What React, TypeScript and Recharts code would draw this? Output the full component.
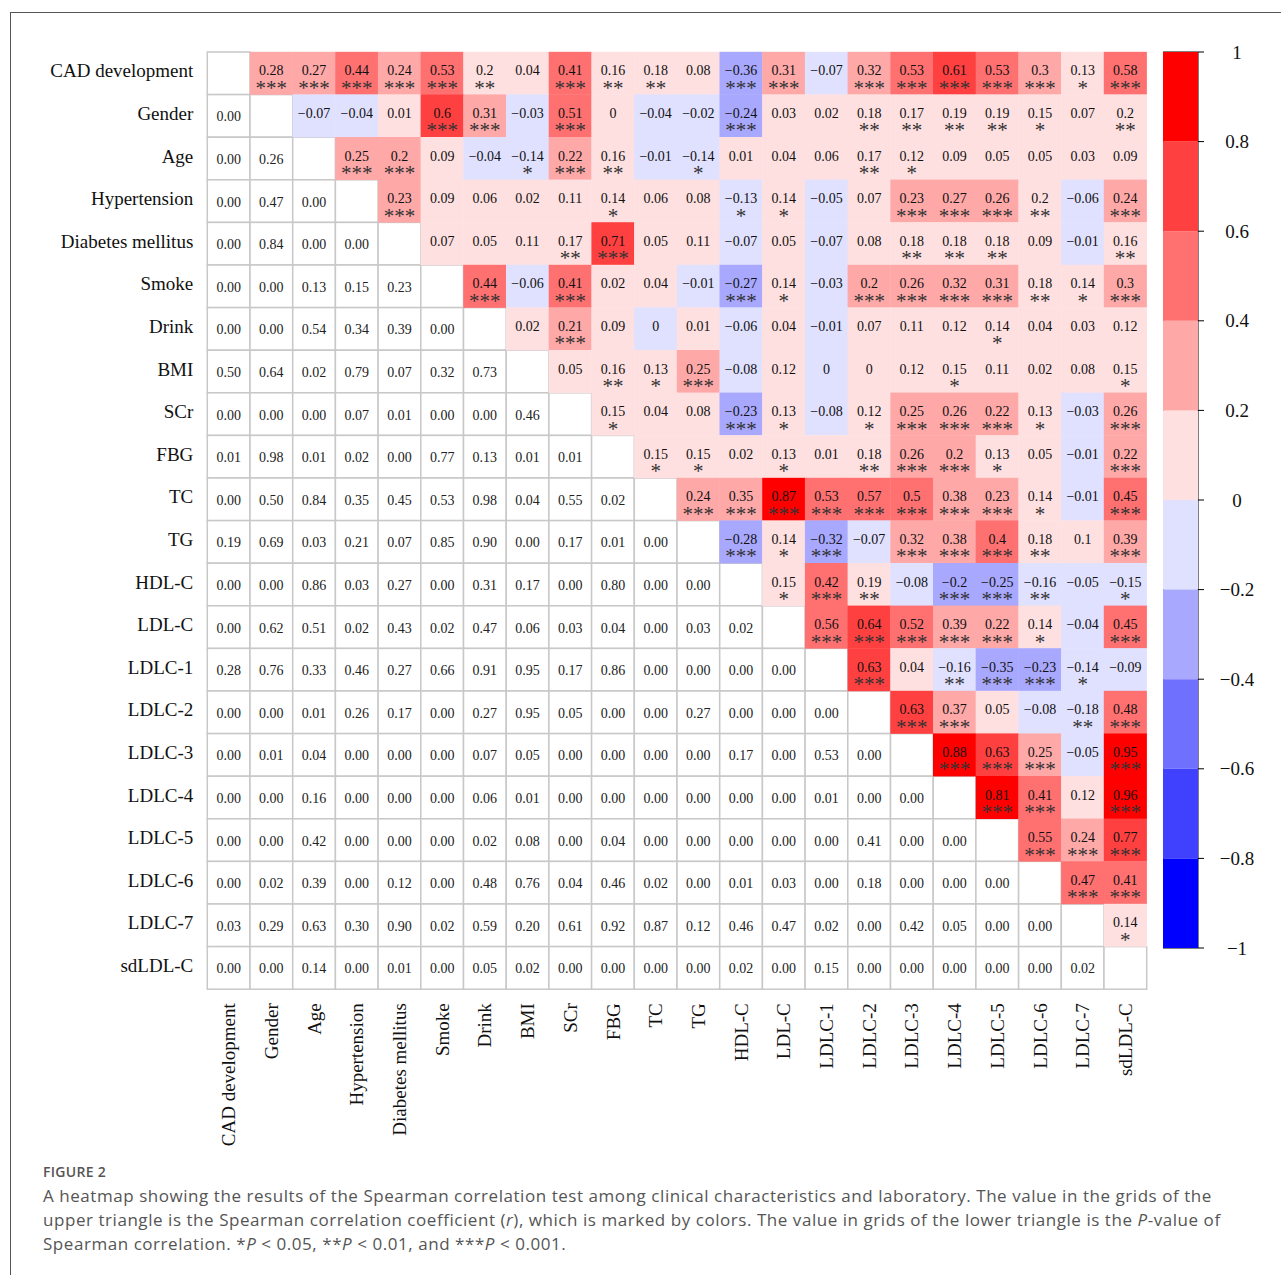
import { Bar, BarChart, ReferenceArea, Scatter, ScatterChart, XAxis, YAxis } from "recharts";

const LABELS = [
  "CAD development", "Gender", "Age", "Hypertension", "Diabetes mellitus", "Smoke", "Drink", "BMI",
  "SCr", "FBG", "TC", "TG", "HDL-C", "LDL-C", "LDLC-1", "LDLC-2", "LDLC-3", "LDLC-4", "LDLC-5",
  "LDLC-6", "LDLC-7", "sdLDL-C",
];

// upper triangle: Spearman r, row i holds columns i+1..21
const R_ROWS = [
  [0.28, 0.27, 0.44, 0.24, 0.53, 0.199, 0.04, 0.41, 0.16, 0.18, 0.08, -0.36, 0.31, -0.07, 0.32, 0.53, 0.61, 0.53, 0.3, 0.13, 0.58],
  [-0.07, -0.04, 0.01, 0.601, 0.31, -0.03, 0.51, 0.001, -0.04, -0.02, -0.24, 0.03, 0.02, 0.18, 0.17, 0.19, 0.19, 0.15, 0.07, 0.199],
  [0.25, 0.201, 0.09, -0.04, -0.14, 0.22, 0.16, -0.01, -0.14, 0.01, 0.04, 0.06, 0.17, 0.12, 0.09, 0.05, 0.05, 0.03, 0.09],
  [0.23, 0.09, 0.06, 0.02, 0.11, 0.14, 0.06, 0.08, -0.13, 0.14, -0.05, 0.07, 0.23, 0.27, 0.26, 0.199, -0.06, 0.24],
  [0.07, 0.05, 0.11, 0.17, 0.71, 0.05, 0.11, -0.07, 0.05, -0.07, 0.08, 0.18, 0.18, 0.18, 0.09, -0.01, 0.16],
  [0.44, -0.06, 0.41, 0.02, 0.04, -0.01, -0.27, 0.14, -0.03, 0.201, 0.26, 0.32, 0.31, 0.18, 0.14, 0.3],
  [0.02, 0.21, 0.09, -0.001, 0.01, -0.06, 0.04, -0.01, 0.07, 0.11, 0.12, 0.14, 0.04, 0.03, 0.12],
  [0.05, 0.16, 0.13, 0.25, -0.08, 0.12, -0.001, 0.001, 0.12, 0.15, 0.11, 0.02, 0.08, 0.15],
  [0.15, 0.04, 0.08, -0.23, 0.13, -0.08, 0.12, 0.25, 0.26, 0.22, 0.13, -0.03, 0.26],
  [0.15, 0.15, 0.02, 0.13, 0.01, 0.18, 0.26, 0.201, 0.13, 0.05, -0.01, 0.22],
  [0.24, 0.35, 0.87, 0.53, 0.57, 0.5, 0.38, 0.23, 0.14, -0.01, 0.45],
  [-0.28, 0.14, -0.32, -0.07, 0.32, 0.38, 0.401, 0.18, 0.1, 0.39],
  [0.15, 0.42, 0.19, -0.08, -0.201, -0.25, -0.16, -0.05, -0.15],
  [0.56, 0.64, 0.52, 0.39, 0.22, 0.14, -0.04, 0.45],
  [0.63, 0.04, -0.16, -0.35, -0.23, -0.14, -0.09],
  [0.63, 0.37, 0.05, -0.08, -0.18, 0.48],
  [0.88, 0.63, 0.25, -0.05, 0.95],
  [0.81, 0.41, 0.12, 0.96],
  [0.55, 0.24, 0.77],
  [0.47, 0.41],
  [0.14],
];

// number of significance stars for each upper cell
const STAR_ROWS = [
  [3, 3, 3, 3, 3, 2, 0, 3, 2, 2, 0, 3, 3, 0, 3, 3, 3, 3, 3, 1, 3],
  [0, 0, 0, 3, 3, 0, 3, 0, 0, 0, 3, 0, 0, 2, 2, 2, 2, 1, 0, 2],
  [3, 3, 0, 0, 1, 3, 2, 0, 1, 0, 0, 0, 2, 1, 0, 0, 0, 0, 0],
  [3, 0, 0, 0, 0, 1, 0, 0, 1, 1, 0, 0, 3, 3, 3, 2, 0, 3],
  [0, 0, 0, 2, 3, 0, 0, 0, 0, 0, 0, 2, 2, 2, 0, 0, 2],
  [3, 0, 3, 0, 0, 0, 3, 1, 0, 3, 3, 3, 3, 2, 1, 3],
  [0, 3, 0, 0, 0, 0, 0, 0, 0, 0, 0, 1, 0, 0, 0],
  [0, 2, 1, 3, 0, 0, 0, 0, 0, 1, 0, 0, 0, 1],
  [1, 0, 0, 3, 1, 0, 1, 3, 3, 3, 1, 0, 3],
  [1, 1, 0, 1, 0, 2, 3, 3, 1, 0, 0, 3],
  [3, 3, 3, 3, 3, 3, 3, 3, 1, 0, 3],
  [3, 1, 3, 0, 3, 3, 3, 2, 0, 3],
  [1, 3, 2, 0, 3, 3, 2, 0, 1],
  [3, 3, 3, 3, 3, 1, 0, 3],
  [3, 0, 2, 3, 3, 1, 0],
  [3, 3, 0, 0, 2, 3],
  [3, 3, 3, 0, 3],
  [3, 3, 0, 3],
  [3, 3, 3],
  [3, 3],
  [1],
];

// lower triangle: P-values, row i (from 1) holds columns 0..i-1
const P_ROWS = [
  [0.0],
  [0.0, 0.26],
  [0.0, 0.47, 0.0],
  [0.0, 0.84, 0.0, 0.0],
  [0.0, 0.0, 0.13, 0.15, 0.23],
  [0.0, 0.0, 0.54, 0.34, 0.39, 0.0],
  [0.5, 0.64, 0.02, 0.79, 0.07, 0.32, 0.73],
  [0.0, 0.0, 0.0, 0.07, 0.01, 0.0, 0.0, 0.46],
  [0.01, 0.98, 0.01, 0.02, 0.0, 0.77, 0.13, 0.01, 0.01],
  [0.0, 0.5, 0.84, 0.35, 0.45, 0.53, 0.98, 0.04, 0.55, 0.02],
  [0.19, 0.69, 0.03, 0.21, 0.07, 0.85, 0.9, 0.0, 0.17, 0.01, 0.0],
  [0.0, 0.0, 0.86, 0.03, 0.27, 0.0, 0.31, 0.17, 0.0, 0.8, 0.0, 0.0],
  [0.0, 0.62, 0.51, 0.02, 0.43, 0.02, 0.47, 0.06, 0.03, 0.04, 0.0, 0.03, 0.02],
  [0.28, 0.76, 0.33, 0.46, 0.27, 0.66, 0.91, 0.95, 0.17, 0.86, 0.0, 0.0, 0.0, 0.0],
  [0.0, 0.0, 0.01, 0.26, 0.17, 0.0, 0.27, 0.95, 0.05, 0.0, 0.0, 0.27, 0.0, 0.0, 0.0],
  [0.0, 0.01, 0.04, 0.0, 0.0, 0.0, 0.07, 0.05, 0.0, 0.0, 0.0, 0.0, 0.17, 0.0, 0.53, 0.0],
  [0.0, 0.0, 0.16, 0.0, 0.0, 0.0, 0.06, 0.01, 0.0, 0.0, 0.0, 0.0, 0.0, 0.0, 0.01, 0.0, 0.0],
  [0.0, 0.0, 0.42, 0.0, 0.0, 0.0, 0.02, 0.08, 0.0, 0.04, 0.0, 0.0, 0.0, 0.0, 0.0, 0.41, 0.0, 0.0],
  [0.0, 0.02, 0.39, 0.0, 0.12, 0.0, 0.48, 0.76, 0.04, 0.46, 0.02, 0.0, 0.01, 0.03, 0.0, 0.18, 0.0, 0.0, 0.0],
  [0.03, 0.29, 0.63, 0.3, 0.9, 0.02, 0.59, 0.2, 0.61, 0.92, 0.87, 0.12, 0.46, 0.47, 0.02, 0.0, 0.42, 0.05, 0.0, 0.0],
  [0.0, 0.0, 0.14, 0.0, 0.01, 0.0, 0.05, 0.02, 0.0, 0.0, 0.0, 0.0, 0.02, 0.0, 0.15, 0.0, 0.0, 0.0, 0.0, 0.0, 0.02],
];

const CB_LEVELS = [-1, -0.8, -0.6, -0.4, -0.2, 0, 0.2, 0.4, 0.6, 0.8, 1];
const BIN_COLORS = [
  "#0000FF", "#4040FF", "#7070FF", "#A8A8FF", "#E0E0FF",
  "#FFE0E0", "#FFA8A8", "#FF7070", "#FF4040", "#FF0000",
];

const N = LABELS.length;
const CELL_W = 42.7;
const CELL_H = 42.6;
const PLOT_LEFT = 207.3;
const PLOT_TOP = 52;
const CHART_W = 1160;
const CHART_H = 1160;
const SERIF = '"Liberation Serif", "Times New Roman", serif';
const SANS = '"Open Sans", "Noto Sans", sans-serif';

const binColor = (v: number) => {
  const idx = Math.max(0, Math.min(BIN_COLORS.length - 1, Math.floor((v + 1) / 0.2)));
  return BIN_COLORS[idx];
};
const fmtR = (v: number) => String(Math.round(v * 100) / 100).replace("-", "\u2212");
const fmtCb = (v: number) => String(Math.round(v * 10) / 10).replace("-", "\u2212");

type HeatCell = { x: number; y: number; value: number; stars: number; diag: boolean };

const upperCells: HeatCell[] = [];
R_ROWS.forEach((row, i) =>
  row.forEach((v, k) => {
    upperCells.push({ x: i + 1 + k + 0.5, y: i + 0.5, value: v, stars: STAR_ROWS[i][k], diag: false });
  })
);
const lowerCells: HeatCell[] = [];
for (let i = 0; i < N; i++) {
  for (let j = 0; j <= i; j++) {
    const diag = i === j;
    lowerCells.push({ x: j + 0.5, y: i + 0.5, value: diag ? 0 : P_ROWS[i - 1][j], stars: 0, diag });
  }
}
const TICKS = LABELS.map((_, i) => i + 0.5);

function UpperShape(props: any) {
  const { cx, cy, payload } = props;
  return (
    <g>
      <rect x={cx - CELL_W / 2 - 0.2} y={cy - CELL_H / 2 - 0.2} width={CELL_W + 0.4} height={CELL_H + 0.4} fill={binColor(payload.value)} />
      <text x={cx} y={cy + 2} textAnchor="middle" fontSize={14} fontFamily={SERIF} fill="#111">
        {fmtR(payload.value)}
      </text>
      {payload.stars > 0 && (
        <text x={cx} y={cy + 21.5} textAnchor="middle" fontSize={21} fontFamily={SERIF} fill="#333">
          {"*".repeat(payload.stars)}
        </text>
      )}
    </g>
  );
}

function LowerShape(props: any) {
  const { cx, cy, payload } = props;
  return (
    <g>
      <rect x={cx - CELL_W / 2} y={cy - CELL_H / 2} width={CELL_W} height={CELL_H} fill="#fff" stroke="#c8c8c8" strokeWidth={1.5} />
      {!payload.diag && (
        <text x={cx} y={cy + 5.5} textAnchor="middle" fontSize={14} fontFamily={SERIF} fill="#222">
          {payload.value.toFixed(2)}
        </text>
      )}
    </g>
  );
}

function YTick(props: any) {
  const { x, y, payload } = props;
  return (
    <text x={x} y={y} dy={4} textAnchor="end" fontSize={19} fontFamily={SERIF} fill="#111">
      {LABELS[Math.floor(payload.value)]}
    </text>
  );
}

function XTick(props: any) {
  const { x, y, payload } = props;
  return (
    <text x={x} y={y} dy="0.35em" transform={`rotate(-90, ${x}, ${y})`} textAnchor="end" fontSize={19} fontFamily={SERIF} fill="#111">
      {LABELS[Math.floor(payload.value)]}
    </text>
  );
}

function CbTick(props: any) {
  const { x, y, payload } = props;
  return (
    <text x={x + 31} y={y} dy={6.5} textAnchor="middle" fontSize={19} fontFamily={SERIF} fill="#111">
      {fmtCb(payload.value)}
    </text>
  );
}

const cbRow: Record<string, number | string> = { name: "cb" };
BIN_COLORS.forEach((_, b) => {
  cbRow[`b${b}`] = CB_LEVELS[b] < 0 ? -0.2 : 0.2;
});
const cbOrder = [5, 6, 7, 8, 9, 4, 3, 2, 1, 0];

export default function App() {
  const plotW = CELL_W * N;
  const plotH = CELL_H * N;
  return (
    <div style={{ position: "absolute", left: 0, top: 0, width: 1281, height: 1275, background: "#fff", overflow: "hidden" }}>
      <div style={{ position: "absolute", left: 10, top: 12, right: 0, bottom: 0, borderTop: "1.5px solid #555", borderLeft: "1.5px solid #555" }} />

      <div style={{ position: "absolute", left: 0, top: 0 }}>
        <ScatterChart
          width={CHART_W}
          height={CHART_H}
          margin={{ top: PLOT_TOP, right: CHART_W - PLOT_LEFT - plotW, bottom: 0, left: 0 }}
        >
          <XAxis
            type="number"
            dataKey="x"
            domain={[0, N]}
            ticks={TICKS}
            interval={0}
            height={CHART_H - PLOT_TOP - plotH}
            axisLine={false}
            tickLine={false}
            tickSize={0}
            tickMargin={14}
            tick={<XTick />}
          />
          <YAxis
            type="number"
            dataKey="y"
            domain={[0, N]}
            reversed
            ticks={TICKS}
            interval={0}
            width={PLOT_LEFT}
            axisLine={false}
            tickLine={false}
            tickSize={0}
            tickMargin={14}
            tick={<YTick />}
          />
          <Scatter data={lowerCells} shape={LowerShape} isAnimationActive={false} />
          <Scatter data={upperCells} shape={UpperShape} isAnimationActive={false} />
        </ScatterChart>
      </div>

      <div style={{ position: "absolute", left: 1163, top: 42 }}>
        <BarChart
          width={125}
          height={916}
          data={[cbRow]}
          stackOffset="sign"
          barCategoryGap={0}
          barGap={0}
          margin={{ top: 10, right: 0, bottom: 10, left: 0 }}
        >
          <XAxis dataKey="name" hide />
          <YAxis
            orientation="right"
            type="number"
            domain={[-1, 1]}
            allowDataOverflow
            ticks={CB_LEVELS}
            interval={0}
            width={90}
            axisLine={false}
            tickSize={6}
            tickLine={{ stroke: "#000" }}
            tick={<CbTick />}
          />
          {cbOrder.map((b) => (
            <Bar key={b} dataKey={`b${b}`} stackId="cb" fill={BIN_COLORS[b]} isAnimationActive={false} />
          ))}
          <ReferenceArea y1={-1} y2={1} fill="none" stroke="#000" strokeWidth={1} ifOverflow="visible" />
        </BarChart>
      </div>

      <div style={{ position: "absolute", left: 43, top: 1162, fontFamily: SANS, color: "#555", whiteSpace: "nowrap" }}>
        <div style={{ fontSize: 14, fontWeight: 600, lineHeight: "20px", marginBottom: 2, letterSpacing: 0.3 }}>FIGURE 2</div>
        <div style={{ fontSize: 17, lineHeight: "24px", letterSpacing: 0.55 }}>
          <div>A heatmap showing the results of the Spearman correlation test among clinical characteristics and laboratory. The value in the grids of the</div>
          <div>upper triangle is the Spearman correlation coefficient (<i>r</i>), which is marked by colors. The value in grids of the lower triangle is the <i>P</i>-value of</div>
          <div>Spearman correlation. *<i>P</i> &lt; 0.05, **<i>P</i> &lt; 0.01, and ***<i>P</i> &lt; 0.001.</div>
        </div>
      </div>
    </div>
  );
}
